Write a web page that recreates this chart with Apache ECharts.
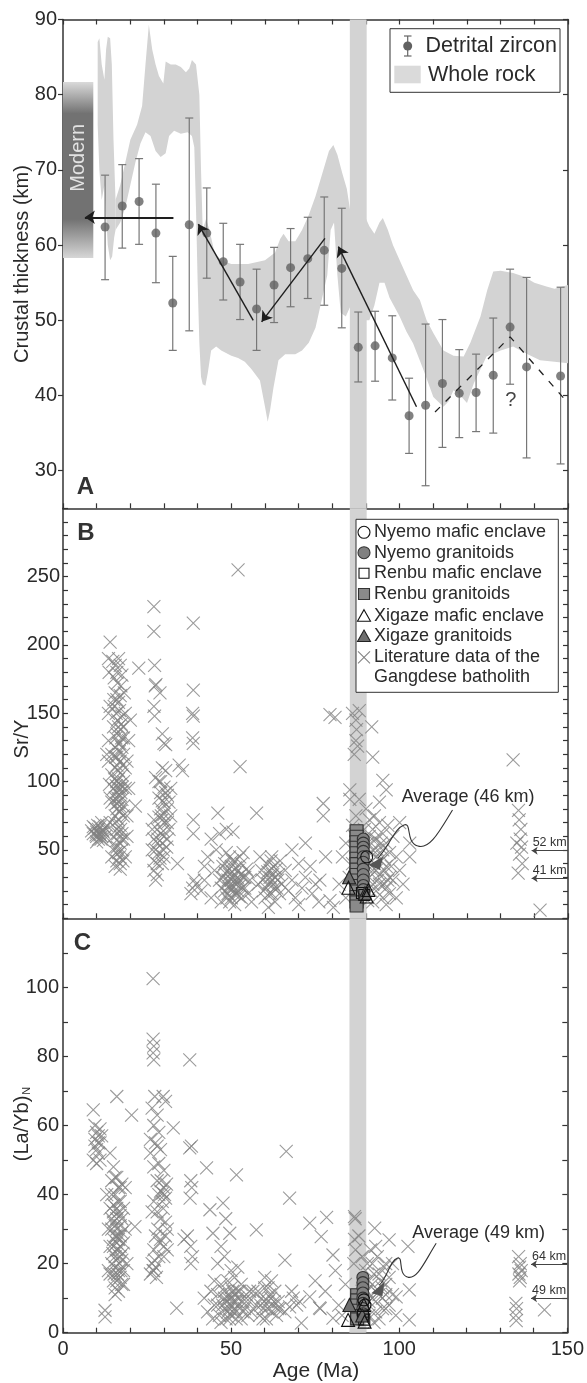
<!DOCTYPE html>
<html><head><meta charset="utf-8">
<script src="https://cdn.jsdelivr.net/npm/echarts@6/dist/echarts.min.js"></script>
<style>html,body{margin:0;padding:0;background:#fff}#c{width:587px;height:1383px}</style>
</head><body><div id="c"></div>
<script>
// ---------------- DATA ----------------
// Panel A: detrital zircon crustal thickness (km)
const dzAge  = [12.5,17.6,22.6,27.6,32.6,37.5,42.7,47.6,52.6,57.5,62.7,67.6,72.7,77.6,82.8,87.7,92.7,97.8,102.8,107.7,112.7,117.7,122.7,127.8,132.8,137.7,147.8];
const dzMean = [62.4,65.2,65.8,61.6,52.3,62.7,61.6,57.8,55.1,51.5,54.7,57.0,58.2,59.3,56.9,46.4,46.6,45.0,37.3,38.7,41.6,40.3,40.4,42.7,49.1,43.8,42.6];
const dzHigh = [69.3,70.7,71.5,68.1,58.5,76.9,67.6,62.9,60.1,56.8,59.7,62.2,63.7,66.4,64.9,51.1,51.2,50.6,42.3,49.5,50.1,46.1,45.5,50.3,56.8,55.7,54.4];
const dzLow  = [55.4,59.6,60.1,55.0,46.0,48.6,55.6,52.7,50.1,46.0,49.7,51.8,52.9,52.0,49.0,41.8,41.9,39.4,32.3,28.0,33.1,34.4,35.2,35.0,41.5,31.7,30.9];

// Whole-rock envelope (upper / lower edges, [age, km])
const wrTop1 = [[10.3,87],[10.8,87.5],[11.5,84],[12.3,82],[12.8,86],[13.3,87.7],[14,87.5],[14.5,84],[15,74],[15.6,66]];
const wrBot1 = [[10.3,76],[10.8,70],[11.5,66],[12.3,68],[12.8,64],[13.3,60],[14,58],[14.6,58.5],[15.2,61],[15.6,62]];
const wrTop2 = [[15.6,66],[17,68],[18.5,71],[20,74],[22,76],[23.5,78.5],[24.5,84],[25.5,89.3],[26.5,86],[27.5,84],[28.5,82.5],[29.8,81.5],[30.5,84.4],[32,84],[33.5,84],[35,83.7],[36.5,83],[37.5,83.5],[38.3,84.6],[39.5,84],[40.5,80],[41,70],[41.5,62],[42.5,63.5],[43.5,62],[45,59],[47,58],[50,57.5],[55,57.5],[60,58],[63,59],[64.5,60.8],[65.5,61.5],[67,60.5],[69,60.5],[71,62],[73,64],[75,66.5],[77,69.5],[79,72.5],[80.3,73.3],[81.5,72],[83,69.5],[84.3,67.5],[85.5,64]];
const wrBot2 = [[15.6,62],[17,63],[18.5,65],[20,68],[21.5,71],[23,73.5],[24.5,75],[26,74.5],[27.5,72.5],[29,71.7],[30.5,72.2],[31.5,74.5],[33,75.2],[35,74.8],[37,75],[38.3,74.5],[39,73],[39.5,65],[40,55],[40.5,47],[41,42.5],[41.5,41.5],[42.3,41.3],[43,43],[44,46],[45.5,46.5],[47,46],[50,45.3],[52,45],[54,44.5],[56,43.5],[58.5,42],[60,38.5],[60.8,36.5],[61.5,38],[62.5,41],[64,44.7],[66,45.5],[69,45.5],[71,46],[73,47],[75,49],[77,53],[78.5,56],[79.5,62],[80.5,63],[81.5,56],[82.5,51],[84,50.5],[85.5,52]];
const wrTop3 = [[89.5,64],[91,62.5],[92.5,61.5],[94,63],[95,63.6],[96.5,62],[98,60],[100,58],[102,56],[104,54],[106,52.7],[108,50],[110,48.3],[113,46],[116,45.3],[119,45.2],[121,47],[124,50.5],[126,54],[127.8,56.5],[130,56.6],[133.7,56.3],[137,55.8],[140,55],[143.6,54.5],[146,54.2],[150,54.7]];
const wrBot3 = [[89.5,50],[91,50],[92.5,52],[94,55],[95.5,55],[97,53],[100,50.5],[102,48.5],[104,46.9],[107,43.5],[110,39.8],[113,38.5],[114.5,39.2],[116,40.7],[118,40],[120,39],[122,41.6],[124,43.5],[125.8,45.2],[130,46],[133.7,46.5],[138,45.5],[141.7,44.7],[146,44.5],[150,44.3]];

const modernAge = [0, 9];
const modernKm = [58.3, 81.7];
const bandAge = [85.2, 90.2];

const arrowsA = [[[32.8,63.7],[6.5,63.7]], [[56.5,50.0],[40.2,62.8]], [[77.8,60.9],[59.0,49.8]], [[105.0,38.5],[81.8,59.8]]];
const dashA = [[110.5,37.8],[132.8,47.8],[149.6,39.2]];

// Panel B: Sr/Y
const litB = [
[8.5,64],[9,62],[9.5,66],[10,60],[10,63],[10.5,58],[10.5,65],[11,61],[11,67],[11.5,60],[12,63],[12,57],[12.5,66],[9,67],[11.5,70],[10,56],[12.5,60],[13,68],
[9.8,61],[10.8,62],[11.8,64],[10.3,68],[11.3,58],
[14,202],[13.5,190],[14.8,188],[15.5,185],[16,180],[15.2,176],[17,185],[17.5,178],[16.5,190],[14,155],[13.7,180],
[15.5,165],[16,160],[16.5,158],[17,163],[15.8,150],[16.8,152],[17.5,148],[18.5,150],[15,140],[16,135],[17,138],[18,132],[16.5,128],[17.5,125],[15.5,125],[14.5,120],[16,118],[17,115],[18,120],[15.5,110],[16.5,108],[17.5,105],[14.5,105],[16,100],[17,98],[18,100],[15,95],[16,92],[17,90],[15.5,88],[16.5,85],[17.5,87],[14.5,85],[16,80],[17,78],[18,82],[15.5,75],[16.5,72],[17,68],[14,70],[16,65],[17.5,62],[15,60],[16,57],[17,55],[18,58],[15.5,52],[16.5,48],[17.5,50],[14.5,45],[16,42],[17,40],[15.5,38],[17,36],[18.5,45],[19,60],[19,75],[19.5,95],[19,115],[19.5,130],[20,145],[18.5,95],[18.5,110],[13.5,130],[13.5,115],[13.8,98],[14,88],[13.5,150],[13,120],[16,112],[17,95],[16.5,102],[15.8,97],[16.3,88],[17.2,92],
[15.2,155],[16.2,145],[17.3,142],[15.7,132],[16.7,122],[17.7,112],[15.3,102],[16.4,95],[17.6,96],[15.9,84],[16.9,82],[17.9,75],[15.4,70],[16.3,62],[17.4,58],[15.8,48],[16.8,45],[17.8,42],[16.1,52],[17.1,65],[16.6,78],[15.6,118],[16.9,128],[17.8,140],[16.2,172],[17.2,170],[18.2,165],[15.1,160],[16.5,140],[17.4,132],
[22.5,183],[21.5,82],
[27,228],[27,210],[27.2,185],[27.4,170],[27.6,171],[28.8,165],[27,155],[27.2,148],[29.5,135],[30,128],[30.5,127],[29.5,110],[30.5,108],[27.5,103],[28.5,100],[30,96],[29,92],[31,90],[30,85],[29,80],[31,80],[30,76],[28.5,74],[29.5,72],[31,70],[27,72],[28,65],[29,62],[30,60],[27,58],[28,55],[29.5,55],[31,58],[27.5,50],[28.5,48],[30,45],[27,42],[28,40],[29.5,40],[27,35],[28,32],[27.5,28],[31.5,65],[32,95],[32,75],[26.5,65],[26.5,50],
[28.5,88],[29.5,86],[30.5,92],[29.2,75],[30.2,70],[29.8,64],[28.2,58],[29.8,50],[28.8,44],[30.8,52],[29,100],[31.5,85],
[34.5,112],[35.5,108],[34,40],[38.7,216],[38.7,167],[38.5,150],[38.7,148],[38.5,132],[38.7,128],[38.7,72],[38.7,62],[38.9,28],[38.5,22],[38,18],[39.5,25],
[41,20],[42,28],[43,45],[44,58],[45,35],[46,77],[44,15],[42,38],[46.5,62],[47,22],[45.5,50],
[47.5,30],[48,40],[48.5,25],[49,35],[49,18],[49.5,45],[50,28],[50,38],[50,15],[50.5,22],[51,32],[51,42],[51.5,18],[52,28],[52,35],[52.5,24],[53,40],[53,15],[53.5,30],[54,22],[54.5,36],[55,18],[55.5,28],[56,12],[48,20],[49,28],[50.5,30],[51.5,25],[52.5,45],[49.5,12],[51,10],[48.5,48],[47,12],[53.5,48],[50,22],[51,26],[49.5,32],[52,20],
[48.2,33],[49.3,22],[50.2,34],[50.8,18],[51.3,37],[51.8,30],[52.3,16],[52.8,32],[53.3,22],[49.8,25],[50.3,42],[48.7,15],[54,30],[55,34],[46.5,28],[47.5,38],
[52,255],[52.6,111],[57.5,77],[50.5,63],[48.5,65],
[58,25],[59,35],[59.5,20],[60,30],[60.5,40],[61,25],[61.5,35],[62,28],[62,18],[62.5,38],[63,30],[63.5,22],[64,32],[64.5,42],[65,25],[60,15],[62,45],[63,12],[58.5,45],[61,8],[61.5,30],[62.5,25],
[60.3,22],[60.8,34],[61.3,18],[61.8,42],[62.3,32],[62.8,22],[63.3,36],[63.8,28],[64.3,18],[59.3,28],
[66,35],[67,20],[68,28],[69,15],[70,40],[71,22],[72,30],[73.4,38],[74,18],[75,25],[76.3,28],[77.3,84],[77.3,75],[79.3,13],[80.3,8],[79.3,149],[80.8,147],[78,45],[76,12],[70,10],[68,50],[72,55],
[86,150],[87,145],[88,152],[87.2,138],[87,130],[87.5,126],[86.5,120],[91.7,140],[92,118],[95,101],[96,94],[85.2,94],[85.2,87],[87,75],[88,87],[86,68],[86.5,60],[87.5,50],[86,40],[85,30],[84,55],[83,45],[82,25],[84,15],
[90,80],[91,72],[92,65],[93,58],[94,70],[95,62],[96,55],[97,48],[90.5,55],[91.5,48],[92.5,40],[93.5,50],[94.5,42],[95.5,35],[96.5,28],[97.5,38],[91,30],[92,25],[93,20],[94,32],[95,15],[96,22],[97,18],[98,28],[90,38],[91,60],[92.5,75],[94,85],[89.5,65],[89,25],[88.5,18],[98,60],[99,45],[100,35],[101,25],[99,15],[103,45],[103,55],[100,70],[92,12],[96,10],[90.5,13],[93,45],[95,50],[92,35],
[91,40],[92,50],[93,35],[94,25],[95,45],[96,38],[97,30],[91.5,20],[93.5,28],[95.5,25],[94.5,55],[96.5,68],[90.5,45],[92.5,58],
[133.7,116],[135.3,79],[135.5,72],[136,65],[135.8,58],[136.2,52],[135.6,47],[136.4,40],[135.2,33],[141.7,6],[134.8,55]
];
const nyemoMaficB = [[90.2,45]];
const nyemoGranB  = [[89.2,58],[89.2,55],[89.2,52],[89.2,49],[89.2,45],[89.2,41],[89.2,36],[89.2,32],[89.2,28],[89.2,24],[89.2,21]];
const renbuMaficB = [[89.5,17],[88.8,18.5]];
const renbuGranB  = [[87.2,64],[87.2,60],[87.2,56],[87.2,52],[87.2,48],[87.2,44],[87.2,40],[87.2,36],[87.2,32],[87.2,28],[87.2,24],[87.2,20],[87.2,16],[87.2,12],[87.2,9]];
const xigazeMaficB = [[84.8,22.4],[90.7,20.7],[90.2,16]];
const xigazeGranB  = [[85,30],[89.7,18.3]];
const kmArrowsB = [[[150,49.5],[139.2,49.5]], [[150,29.3],[139.2,29.3]]];
const kmLabelsB = ['52 km', '41 km'];

// Panel C: (La/Yb)N
const litC = [
[9,64.5],[9.5,60],[10,58],[10.5,57],[11,55],[9.5,56],[10,53],[10.5,52],[11,50],[9,50],[11.5,57],[10,49],[11,59],[12.5,4.6],[12.5,6.5],[9.5,54],[10.5,55],
[16,68.4],[14,52],[15,48],[16,45],[17,42],[14.5,44],[15.5,40],[16.5,38],[17.5,43],[14,36],[15,35],[16,33],[17,31],[18,36],[14.5,30],[15.5,28],[16.5,27],[17.5,29],[15,25],[16,24],[17,22],[18,26],[14.5,20],[15.5,19],[16.5,18],[17.5,21],[14,17],[15,15],[16,15],[17,16],[18,18],[15.5,13],[16.5,12],[17.5,14],[14,25],[13.5,30],[13,40],[18.5,30],[19,20],[18.5,42],[15,32],[16,30],[17,34],[16,26],[13.5,18],[18,14],[15.5,22],[16.5,24],[17,28],[15,37],
[14.5,33],[15.5,31],[16.5,35],[17.5,33],[15,27],[16,28],[17,25],[14.8,23],[15.8,21],[16.8,20],[17.8,23],[15.2,17],[16.2,17],[17.2,18],[15.5,45],[16.5,42],[14.5,40],[16,36],[17,38],[15.5,11],
[20.4,63],[21.4,30.7],
[26.8,102.5],[26.8,85],[27,83],[26.8,81],[27,79],[27.3,68.4],[29.8,68.4],[30.5,67],[26.5,65],[28,63],[27,60],[28.5,58],[26,56],[27.5,55],[28,54],[29,53],[32.8,59.3],[26,52],[27,48],[28.5,49],[30,47],[29.7,40.4],[30,42],[29,41],[30.5,39],[28,44],[27,38],[26.5,35],[28,35],[29,33],[30.5,32],[27.5,28],[29,27],[30,25],[31,24],[27,24],[28.5,22],[26.5,20],[27,18],[27.5,19],[26,17],[30,22],[31,30],
[29.2,44],[30.2,40],[29.5,38],[30.8,43],[28.5,40],[29.8,36],[28.2,30],[27.2,21],[27.8,16],[26.8,18],[28.7,26],[30.5,28],
[33.8,7.1],[37.7,79],[38.2,54],[37.7,53.5],[38,44],[38.3,42],[37.8,39],[37,28],[38,25],[38.5,22],[38,20],[36,27],
[42.7,47.7],[43.7,35.6],[47.6,37.5],[51.6,45.7],[48.4,33],[49.6,28.8],[44.6,28.8],[57.5,29.8],[46,20],[48,22],[50,18],[45,15],[47,25],[52,19],
[42,10],[43,6],[44,12],[44.5,4],[45,8],[46,11],[46.5,5],[47,14],[47.5,8],[48,12],[48.5,4],[49,10],[49.5,7],[50,13],[50,5],[50.5,9],[51,11],[51.5,6],[52,8],[52.5,12],[53,4],[53.5,9],[54,7],[54.5,11],[55,5],[55.5,9],[56,6],[56.5,12],[49,15],[51,16],[48,7],[50,10],[52,10],[53,14],[47,3],
[48.5,9],[49.5,11],[50.5,6],[51.5,9],[49,6],[50,8],[51,7],[52,12],[48,10],[50.5,12],[49.5,4],[51.5,4],[46,8],[53.5,6],[55.5,12],[54.5,9],
[57.5,8],[58,12],[58.5,5],[59,10],[59.5,7],[60,13],[60.5,4],[61,9],[61.5,11],[62,6],[62.5,8],[63,12],[63.5,5],[64,9],[64.5,7],[60,16],[62,15],
[58.8,8],[59.8,9],[60.8,7],[61.8,10],[62.8,9],[63.8,7],[61,13],[59.5,4],
[66.4,52.5],[67.4,39],[66,21],[67.4,7.5],[68.5,10],[69.5,8],[70.4,9],[66,6],[68,12],
[73.4,31.7],[78.4,33.4],[76.8,27.8],[80.3,22.5],[86.7,33.6],[86.9,33],[86.7,27],[87,24],[86.5,20],[92.7,30.3],[97,26.9],[102.6,25],[103,12.4],[103,3.7],[99.1,10.4],[76.3,7.2],[76.5,7],[73.4,10.4],[80.3,4.2],[70.9,2.8],[75,15],[78,12],[82,8],[84,14],[83,5],[81,18],
[89,22],[90,18],[91,15],[92,20],[93,12],[94,17],[95,10],[96,14],[97,8],[90,8],[91,5],[92,10],[93,6],[94,4],[95,13],[96,7],[97,16],[98,11],[99,5],[90.5,12],[91.5,24],[93.5,22],[95.5,19],[89.5,4],[92.5,3],[88,28],[89,12],[98,20],
[90,12],[91,9],[92,14],[93,9],[94,11],[95,7],[96,11],[92.5,17],[94.5,15],[90.5,20],[93,25],[96,20],
[135.5,22],[136,20],[135.8,19],[136.3,18],[135.6,17],[136,16],[135.8,15],[134.7,8.5],[134.9,7],[134.7,5],[134.8,3.5],[143.2,6.6]
];
const nyemoMaficC = [[89.5,9.5],[89.8,8]];
const nyemoGranC  = [[89.2,16],[89.2,14.5],[89.2,13],[89.2,11.5],[89.2,10],[89.2,8.5],[89.2,7],[89.2,5.5]];
const renbuMaficC = [[89.2,5],[89.6,3.8]];
const renbuGranC  = [[87.5,11],[87.5,9.5],[87.5,8],[87.5,6.5],[87.5,5],[87.5,4]];
const xigazeMaficC = [[84.8,3.7],[89.7,3.2],[89.5,8]];
const xigazeGranC  = [[85.2,8],[89,5]];
const kmArrowsC = [[[150,19.8],[139.2,19.8]], [[150,10],[139.2,10]]];
const kmLabelsC = ['64 km', '49 km'];

// annotation curves (data coords): start + 3 cubic segments; arrow heads
const avgCurveB = [[115.7,79.3],[112,64.6],[109,50],[105.4,52.9],[101.6,55.9],[103.7,70.5],[101.3,68.3],[98.6,66.1],[97.1,53.7],[93.6,44.1]];
const avgHeadB  = [[90.7,39],[95.1,45.1],[94.1,35.4]];
const avgTextB  = [100.6, 88.8];
const avgCurveC = [[111.0,25.9],[107.5,20.5],[105.4,15.3],[102.5,16.1],[99.5,17.0],[101.3,22.2],[99.5,21.6],[97.1,20.8],[96.5,15.9],[94.1,13.8]];
const avgHeadC  = [[91.7,11.4],[95.6,14.7],[95.0,10.6]];
const avgTextC  = [103.9, 28.8];

const yTicksA = [30,40,50,60,70,80,90];
const xTickLabels = [0,50,100,150];

// ---------------- CHART ----------------
const FONT = '"Liberation Sans", Arial, Helvetica, sans-serif';
const AX = '#333';
const TXT = '#2a2a2a';
const CROSS = '#828282';
const chart = echarts.init(document.getElementById('c'), null, {renderer:'canvas', width:587, height:1383});

function xAx(g, pos, labels){
  return {gridIndex:g, type:'value', min:0, max:150, interval:10, position:pos,
    axisLine:{onZero:false, lineStyle:{color:AX, width:1.5}},
    axisTick:{inside:true, length:5, lineStyle:{color:AX, width:1.2}},
    axisLabel: labels ? {show:true, interval:0, fontSize:20, color:TXT, fontFamily:FONT, margin:7,
      formatter: v => xTickLabels.indexOf(v) >= 0 ? String(v) : ''} : {show:false},
    splitLine:{show:false}};
}
function yAx(g, pos, min, max, opts){
  const a = {gridIndex:g, type:'value', min:min, max:max, position:pos,
    axisLine:{onZero:false, lineStyle:{color:AX, width:1.5}},
    axisTick:{inside:true, length:5, lineStyle:{color:AX, width:1.2}},
    axisLabel:{show:false}, splitLine:{show:false}};
  return Object.assign(a, opts || {});
}
const grids = [
  {left:63, top:19.5, width:505, height:488.8},
  {left:63, top:508.3, width:505, height:410},
  {left:63, top:918.3, width:505, height:414.4}
];
const xAxes = [xAx(0,'bottom',false), xAx(0,'top',false), xAx(1,'bottom',false), xAx(2,'bottom',true)];
const yAxes = [
  yAx(0,'left',25,90,{axisTick:{inside:false,length:5,customValues:yTicksA,lineStyle:{color:AX,width:1.2}},
     axisLabel:{show:true,customValues:yTicksA,fontSize:20,color:TXT,fontFamily:FONT,margin:6}}),
  yAx(0,'right',25,90,{axisTick:{inside:true,length:5,customValues:yTicksA,lineStyle:{color:AX,width:1.2}}}),
  yAx(1,'left',0,300,{interval:10, axisLabel:{show:true,interval:0,fontSize:20,color:TXT,fontFamily:FONT,margin:3,
     formatter:v => (v%50===0 && v>0 && v<300) ? String(v) : ''}}),
  yAx(1,'right',0,300,{interval:10}),
  yAx(2,'left',0,120,{interval:10, axisLabel:{show:true,interval:0,fontSize:20,color:TXT,fontFamily:FONT,margin:4,
     formatter:v => (v%20===0 && v<120) ? String(v) : ''}}),
  yAx(2,'right',0,120,{interval:10})
];

const yRanges = [[25,90],[0,300],[0,120]];
function bandSeries(xi, yi, yr){
  return {type:'custom', xAxisIndex:xi, yAxisIndex:yi, silent:true, z:1, data:[[bandAge[0], bandAge[1]]],
    renderItem:(p, api) => {
      const a = api.coord([api.value(0), yr[1]]), b = api.coord([api.value(1), yr[0]]);
      return {type:'rect', shape:{x:a[0], y:a[1], width:b[0]-a[0], height:b[1]-a[1]}, style:{fill:'#d3d3d3'}};
    }};
}
const wrPolys = [[wrTop1, wrBot1], [wrTop2, wrBot2], [wrTop3, wrBot3]];
const crossSym = 'path://M0,0L10,10M10,0L0,10';

function litSeries(xi, yi, data){
  return {type:'scatter', xAxisIndex:xi, yAxisIndex:yi, data:data, symbol:crossSym, symbolSize:13, z:3, silent:true,
    itemStyle:{color:'rgba(0,0,0,0)', borderColor:CROSS, borderWidth:1.1}};
}
function sampleSeries(xi, yi, data, sym, size, fill, stroke, z){
  return {type:'scatter', xAxisIndex:xi, yAxisIndex:yi, data:data, symbol:sym, symbolSize:size, z:z, silent:true,
    itemStyle:{color:fill, borderColor:stroke, borderWidth:1.1, opacity:1}};
}
function kmSeries(xi, yi, arr){
  return {type:'lines', coordinateSystem:'cartesian2d', xAxisIndex:xi, yAxisIndex:yi, z:6, silent:true,
    symbol:['none','arrow'], symbolSize:[0,6], lineStyle:{color:'#444', width:1, opacity:1, curveness:0},
    data: arr.map(c => ({coords:c}))};
}
const OPEN = 'rgba(255,255,255,0)';

const option = {
  animation:false,
  grid: grids, xAxis: xAxes, yAxis: yAxes,
  series: [
    // ---- A ----
    {type:'custom', xAxisIndex:0, yAxisIndex:0, silent:true, z:1, data:wrPolys.map((p,i)=>[i]),
      renderItem:(p, api) => {
        const poly = wrPolys[p.dataIndex];
        const pts = poly[0].map(q => api.coord(q)).concat(poly[1].slice().reverse().map(q => api.coord(q)));
        return {type:'polygon', shape:{points:pts}, style:{fill:'#d3d3d3'}};
      }},
    bandSeries(0,0,yRanges[0]),
    {type:'custom', xAxisIndex:0, yAxisIndex:0, silent:true, z:2, data:[[modernAge[0], modernAge[1], modernKm[0], modernKm[1]]],
      renderItem:(p, api) => {
        const a = api.coord([api.value(0), api.value(3)]), b = api.coord([api.value(1), api.value(2)]);
        const mid = api.coord([(api.value(0)+api.value(1))/2, 71.6]);
        return {type:'group', children:[
          {type:'rect', shape:{x:a[0], y:a[1], width:b[0]-a[0], height:b[1]-a[1]},
           style:{fill:{type:'linear', x:0, y:0, x2:0, y2:1, colorStops:[
             {offset:0, color:'#dadada'},{offset:0.18, color:'#727272'},{offset:0.78, color:'#727272'},{offset:1, color:'#d6d6d6'}]}}},
          {type:'text', x:mid[0], y:mid[1], rotation:Math.PI/2,
           style:{text:'Modern', fill:'#e2e2e2', fontSize:20, fontFamily:FONT, align:'center', verticalAlign:'middle'}}
        ]};
      }},
    {type:'custom', xAxisIndex:0, yAxisIndex:0, silent:true, z:4, data:dzAge.map((a,i)=>[a, dzLow[i], dzHigh[i]]),
      renderItem:(p, api) => {
        const x = api.value(0), hi = api.coord([x, api.value(2)]), lo = api.coord([x, api.value(1)]);
        const w = 4, st = {stroke:'#777', lineWidth:1.2};
        return {type:'group', children:[
          {type:'line', shape:{x1:hi[0], y1:hi[1], x2:lo[0], y2:lo[1]}, style:st},
          {type:'line', shape:{x1:hi[0]-w, y1:hi[1], x2:hi[0]+w, y2:hi[1]}, style:st},
          {type:'line', shape:{x1:lo[0]-w, y1:lo[1], x2:lo[0]+w, y2:lo[1]}, style:st}
        ]};
      }},
    {type:'scatter', xAxisIndex:0, yAxisIndex:0, silent:true, z:5, data:dzAge.map((a,i)=>[a, dzMean[i]]),
      symbol:'circle', symbolSize:9, itemStyle:{color:'#616161'}},
    {type:'lines', coordinateSystem:'cartesian2d', xAxisIndex:0, yAxisIndex:0, z:6, silent:true,
      symbol:['none','arrow'], symbolSize:[0,10], lineStyle:{color:'#1e1e1e', width:1.4, opacity:1},
      data: arrowsA.map((c,i) => ({coords:c, lineStyle: i===0 ? {width:2.2} : {}}))},
    {type:'line', xAxisIndex:0, yAxisIndex:0, z:6, silent:true, data:dashA, symbol:'none',
      lineStyle:{color:'#222', width:1.3, type:[7,8]}},
    // ---- B ----
    bandSeries(2,2,yRanges[1]),
    litSeries(2,2,litB),
    sampleSeries(2,2,renbuGranB,'rect',[13,12],'#8a8a8a','#333',7),
    sampleSeries(2,2,nyemoGranB,'circle',12,'#808080','#333',8),
    sampleSeries(2,2,nyemoMaficB,'circle',12,OPEN,'#111',9),
    sampleSeries(2,2,renbuMaficB,'rect',11,OPEN,'#111',9),
    sampleSeries(2,2,xigazeGranB,'triangle',13,'#6e6e6e','#222',9),
    sampleSeries(2,2,xigazeMaficB,'triangle',13,OPEN,'#111',9),
    kmSeries(2,2,kmArrowsB),
    // ---- C ----
    bandSeries(3,4,yRanges[2]),
    litSeries(3,4,litC),
    sampleSeries(3,4,renbuGranC,'rect',[13,12],'#8a8a8a','#333',7),
    sampleSeries(3,4,nyemoGranC,'circle',12,'#808080','#333',8),
    sampleSeries(3,4,nyemoMaficC,'circle',12,OPEN,'#111',9),
    sampleSeries(3,4,renbuMaficC,'rect',11,OPEN,'#111',9),
    sampleSeries(3,4,xigazeGranC,'triangle',13,'#6e6e6e','#222',9),
    sampleSeries(3,4,xigazeMaficC,'triangle',13,OPEN,'#111',9),
    kmSeries(3,4,kmArrowsC)
  ]
};
chart.setOption(option);

// ---------------- ANNOTATIONS / LEGENDS ----------------
const px = (xi, yi, pt) => chart.convertToPixel({xAxisIndex:xi, yAxisIndex:yi}, pt);
function txt(x, y, s, o){
  return Object.assign({type:'text', x:x, y:y, z:50, silent:true,
    style:Object.assign({text:s, fill:TXT, fontSize:18, fontFamily:FONT, align:'left', verticalAlign:'middle'}, (o&&o.style)||{})},
    (o&&o.el)||{});
}
function curve(xi, yi, pts, head){
  const P = pts.map(p => px(xi, yi, p));
  const els = [];
  for (let k = 1; k + 2 < P.length; k += 3){
    els.push({type:'bezierCurve', z:50, silent:true, shape:{x1:P[k-1][0], y1:P[k-1][1], cpx1:P[k][0], cpy1:P[k][1],
      cpx2:P[k+1][0], cpy2:P[k+1][1], x2:P[k+2][0], y2:P[k+2][1]}, style:{stroke:'#333', lineWidth:1.1, fill:'none'}});
  }
  els.push({type:'polygon', z:50, silent:true, shape:{points:head.map(p => px(xi, yi, p))}, style:{fill:'#555'}});
  return els;
}
const g = [];
// axis titles
g.push(txt(22, 264, 'Crustal thickness (km)', {style:{fontSize:20, align:'center'}, el:{rotation:Math.PI/2}}));
g.push(txt(22, 739, 'Sr/Y', {style:{fontSize:20, align:'center'}, el:{rotation:Math.PI/2}}));
g.push({type:'text', x:22, y:1124, z:50, rotation:Math.PI/2, silent:true,
  style:{text:'{a|(La/Yb)}{b|N}', align:'center', verticalAlign:'middle', fill:TXT, fontFamily:FONT,
    rich:{a:{fontSize:20, fontFamily:FONT, fill:TXT, verticalAlign:'middle'}, b:{fontSize:11, fontFamily:FONT, fill:TXT, verticalAlign:'bottom', padding:[9,0,0,1]}}}});
g.push(txt(316, 1371, 'Age (Ma)', {style:{fontSize:21, align:'center'}}));
// panel letters
g.push(txt(85.5, 487, 'A', {style:{fontSize:24, fontWeight:'bold', align:'center', fill:'#333'}}));
g.push(txt(86, 533, 'B', {style:{fontSize:24, fontWeight:'bold', align:'center', fill:'#333'}}));
g.push(txt(82.5, 943, 'C', {style:{fontSize:24, fontWeight:'bold', align:'center', fill:'#333'}}));
// "?"
const q = px(0, 0, [133, 39.4]);
g.push(txt(q[0], q[1], '?', {style:{fontSize:20, align:'center', fill:'#444'}}));
// legend A
g.push({type:'rect', z:40, silent:true, shape:{x:390, y:28.7, width:170, height:63.6}, style:{fill:'#fff', stroke:'#333', lineWidth:1}});
g.push({type:'line', z:41, silent:true, shape:{x1:407.7, y1:36, x2:407.7, y2:56}, style:{stroke:'#666', lineWidth:1.2}});
g.push({type:'line', z:41, silent:true, shape:{x1:404, y1:36, x2:411.5, y2:36}, style:{stroke:'#666', lineWidth:1.2}});
g.push({type:'line', z:41, silent:true, shape:{x1:404, y1:56, x2:411.5, y2:56}, style:{stroke:'#666', lineWidth:1.2}});
g.push({type:'circle', z:42, silent:true, shape:{cx:407.7, cy:46, r:4.5}, style:{fill:'#616161'}});
g.push(txt(425.5, 46, 'Detrital zircon', {style:{fontSize:21.5}}));
g.push({type:'rect', z:41, silent:true, shape:{x:394.3, y:65.7, width:26.4, height:17.6}, style:{fill:'#dadada'}});
g.push(txt(428, 75, 'Whole rock', {style:{fontSize:21.5}}));
// legend B
g.push({type:'rect', z:40, silent:true, shape:{x:356, y:519.3, width:202.3, height:173}, style:{fill:'#fff', stroke:'#333', lineWidth:1}});
const ly = [532.3, 552.7, 573.3, 594, 615.7, 636, 657.3, 677.3];
const sx = 364;
g.push({type:'circle', z:41, silent:true, shape:{cx:sx, cy:ly[0], r:6}, style:{fill:'#fff', stroke:'#111', lineWidth:1.1}});
g.push({type:'circle', z:41, silent:true, shape:{cx:sx, cy:ly[1], r:6}, style:{fill:'#808080', stroke:'#333', lineWidth:1.1}});
g.push({type:'rect', z:41, silent:true, shape:{x:sx-5, y:ly[2]-5, width:10, height:10}, style:{fill:'#fff', stroke:'#111', lineWidth:1.1}});
g.push({type:'rect', z:41, silent:true, shape:{x:sx-5.5, y:ly[3]-5.5, width:11, height:11}, style:{fill:'#8a8a8a', stroke:'#333', lineWidth:1.1}});
g.push({type:'polygon', z:41, silent:true, shape:{points:[[sx,ly[4]-6],[sx+6.5,ly[4]+5.5],[sx-6.5,ly[4]+5.5]]}, style:{fill:'#fff', stroke:'#111', lineWidth:1.1}});
g.push({type:'polygon', z:41, silent:true, shape:{points:[[sx,ly[5]-6],[sx+6.5,ly[5]+5.5],[sx-6.5,ly[5]+5.5]]}, style:{fill:'#6e6e6e', stroke:'#222', lineWidth:1.1}});
g.push({type:'line', z:41, silent:true, shape:{x1:sx-6, y1:ly[6]-6, x2:sx+6, y2:ly[6]+6}, style:{stroke:CROSS, lineWidth:1.1}});
g.push({type:'line', z:41, silent:true, shape:{x1:sx-6, y1:ly[6]+6, x2:sx+6, y2:ly[6]-6}, style:{stroke:CROSS, lineWidth:1.1}});
['Nyemo mafic enclave','Nyemo granitoids','Renbu mafic enclave','Renbu granitoids','Xigaze mafic enclave','Xigaze granitoids','Literature data of the','Gangdese batholith']
  .forEach((s,i) => g.push(txt(374, ly[i], s, {style:{fontSize:18}})));
// km labels
kmArrowsB.forEach((c,i) => { const p = px(2,2,c[1]); g.push(txt(p[0]+1, p[1]-8, kmLabelsB[i], {style:{fontSize:12.5, fill:'#333'}})); });
kmArrowsC.forEach((c,i) => { const p = px(3,4,c[1]); g.push(txt(p[0]+1, p[1]-8, kmLabelsC[i], {style:{fontSize:12.5, fill:'#333'}})); });
// average annotations
curve(2,2,avgCurveB,avgHeadB).forEach(e => g.push(e));
curve(3,4,avgCurveC,avgHeadC).forEach(e => g.push(e));
const tb = px(2,2,avgTextB), tc = px(3,4,avgTextC);
g.push(txt(tb[0], tb[1], 'Average (46 km)', {style:{fontSize:18}}));
g.push(txt(tc[0], tc[1], 'Average (49 km)', {style:{fontSize:18}}));

chart.setOption({graphic: g});
</script>
</body></html>
